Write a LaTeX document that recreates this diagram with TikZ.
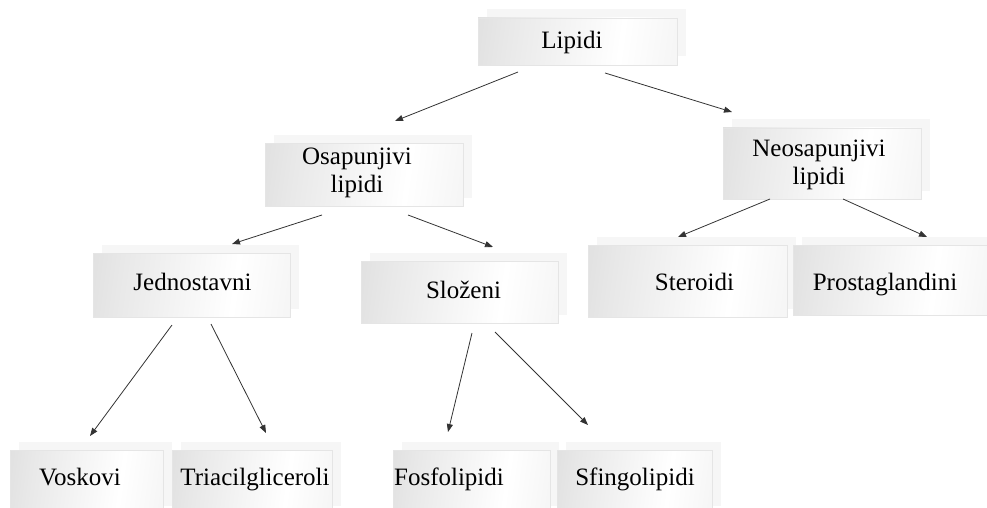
\documentclass[tikz,border=0pt]{standalone}
\usepackage{fontspec}
\setmainfont{Liberation Serif}
\usetikzlibrary{shadows,arrows.meta}
\pgfdeclarehorizontalshading{boxshade}{100bp}{color(0bp)=(gray!38); color(30bp)=(gray!18); color(62bp)=(white); color(100bp)=(gray!18)}
\begin{document}
\begin{tikzpicture}[x=1pt,y=-1pt,
  lbox/.style={rectangle, inner sep=0pt, outer sep=0pt, shading=boxshade, shading angle=-8,
    draw=gray!20, line width=0.6pt,
    copy shadow={shadow xshift=8.5pt, shadow yshift=8.5pt, fill=gray!7, draw=none}},
  ltext/.style={font=\fontsize{25}{28}\selectfont, text=black, inner sep=0pt, align=center},
  conn/.style={draw=black!80, line width=0.8pt, -{Triangle[length=8pt,width=6pt]}}]
\useasboundingbox (0,0) rectangle (987,508);
\clip (0,0) rectangle (987,508);
% boxes
\node[lbox, minimum width=199pt, minimum height=47pt] (lipidi) at (577.5,41.5) {};
\node[lbox, minimum width=198pt, minimum height=63pt] (osap) at (364,174.5) {};
\node[lbox, minimum width=198pt, minimum height=71pt] (neosap) at (822,163.5) {};
\node[lbox, minimum width=197pt, minimum height=64pt] (jedn) at (191.5,285) {};
\node[lbox, minimum width=197pt, minimum height=62pt] (slozeni) at (459.5,292) {};
\node[lbox, minimum width=199pt, minimum height=72pt] (steroidi) at (687.5,281) {};
\node[lbox, minimum width=196pt, minimum height=70pt] (prosta) at (891,280) {};
\node[lbox, minimum width=153pt, minimum height=64pt] (voskovi) at (86.5,482) {};
\node[lbox, minimum width=160pt, minimum height=64pt] (triacil) at (252,482) {};
\node[lbox, minimum width=157pt, minimum height=64pt] (fosfo) at (471.5,482) {};
\node[lbox, minimum width=155pt, minimum height=64pt] (sfingo) at (634.5,482) {};
% texts
\node[ltext, anchor=base] (lipidiT) at (572,49) {Lipidi};
\node[ltext] (osapT) at (357,173) {Osapunjivi\\lipidi};
\node[ltext] (neosapT) at (819,165) {Neosapunjivi\\lipidi};
\node[ltext, anchor=base] (jednT) at (192.5,290) {Jednostavni};
\node[ltext, anchor=base] (slozeniT) at (463.5,298) {Složeni};
\node[ltext, anchor=base] (steroidiT) at (694.5,290) {Steroidi};
\node[ltext, anchor=base] (prostaT) at (885,290) {Prostaglandini};
\node[ltext, anchor=base] (voskoviT) at (80,485) {Voskovi};
\node[ltext, anchor=base] (triacilT) at (255,485) {Triacilgliceroli};
\node[ltext, anchor=base] (fosfoT) at (449,485) {Fosfolipidi};
\node[ltext, anchor=base] (sfingoT) at (635,485) {Sfingolipidi};
% connector ends
\coordinate (lipidi-a) at (518,72);
\coordinate (lipidi-b) at (605,73);
\coordinate (osap-in) at (395,121);
\coordinate (neosap-in) at (732,112);
\coordinate (osap-a) at (322,215);
\coordinate (osap-b) at (408,215);
\coordinate (jedn-in) at (232,244);
\coordinate (slozeni-in) at (493,247);
\coordinate (neosap-a) at (770,199);
\coordinate (neosap-b) at (843,199);
\coordinate (steroidi-in) at (678,237);
\coordinate (prosta-in) at (927,237);
\coordinate (jedn-a) at (172,325);
\coordinate (jedn-b) at (211,324);
\coordinate (voskovi-in) at (90,436);
\coordinate (triacil-in) at (266,433);
\coordinate (slozeni-a) at (472,333);
\coordinate (slozeni-b) at (495,332);
\coordinate (fosfo-in) at (448,432);
\coordinate (sfingo-in) at (588,425);
% connectors
\draw[conn] (lipidi-a) -- (osap-in);
\draw[conn] (lipidi-b) -- (neosap-in);
\draw[conn] (osap-a) -- (jedn-in);
\draw[conn] (osap-b) -- (slozeni-in);
\draw[conn] (neosap-a) -- (steroidi-in);
\draw[conn] (neosap-b) -- (prosta-in);
\draw[conn] (jedn-a) -- (voskovi-in);
\draw[conn] (jedn-b) -- (triacil-in);
\draw[conn] (slozeni-a) -- (fosfo-in);
\draw[conn] (slozeni-b) -- (sfingo-in);
\end{tikzpicture}
\end{document}
